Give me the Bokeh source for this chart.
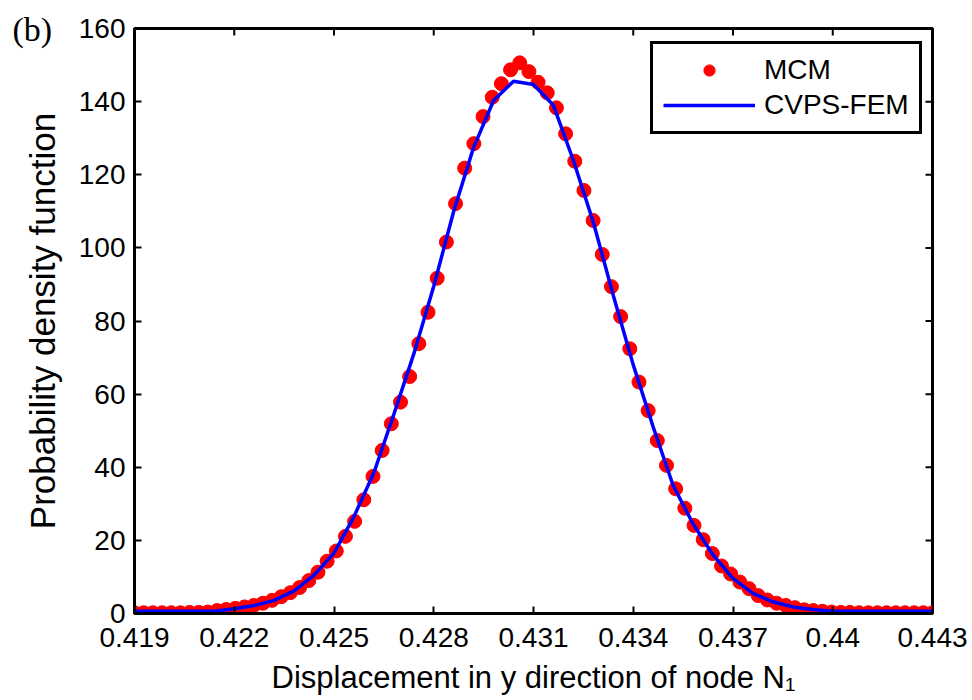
from bokeh.plotting import figure
from bokeh.models import (Range1d, FixedTicker, Legend, LegendItem, Label)
from bokeh.embed import file_html
from bokeh.resources import INLINE
import numpy as np

# ---- data ----
# MCM (Monte Carlo) density estimate: 88 evenly spaced points over 0.419..0.443
mcm_x = np.linspace(0.419, 0.443, 88)
mcm_pdf = [
    0.2, 0.2, 0.2, 0.2, 0.2, 0.2, 0.3, 0.3, 0.4, 0.8,
    1.1, 1.4, 1.8, 2.2, 2.8, 3.6, 4.6, 5.7, 7.1, 9.0,
    11.3, 14.3, 17.1, 21.1, 25.2, 31.1, 37.5, 44.6, 51.9, 57.8,
    64.8, 73.8, 82.4, 91.7, 101.6, 112.1, 121.8, 128.5, 135.9, 141.2,
    144.9, 148.7, 150.6, 148.2, 145.3, 142.4, 138.3, 131.2, 123.7, 115.7,
    107.5, 98.2, 89.4, 81.2, 72.4, 63.3, 55.5, 47.3, 40.5, 34.1,
    28.8, 24.1, 20.2, 16.4, 13.0, 10.8, 8.6, 6.8, 4.9, 3.7,
    2.8, 2.2, 1.6, 1.0, 0.8, 0.6, 0.4, 0.3, 0.3, 0.2,
    0.2, 0.2, 0.2, 0.2, 0.2, 0.2, 0.2, 0.2,
]
# CVPS-FEM density: 41 evenly spaced points over 0.419..0.443
fem_x = np.linspace(0.419, 0.443, 41)
fem_pdf = [
    0.6, 0.6, 0.6, 0.6, 0.6, 1.3, 2.2, 3.6, 6.2, 10.5,
    16.5, 26.5, 38.5, 54.5, 71.0, 89.5, 110.0, 127.5, 140.3, 145.6,
    144.7, 139.0, 123.9, 107.0, 87.0, 68.0, 51.0, 35.0, 24.5, 16.0,
    9.6, 5.5, 3.2, 1.8, 1.1, 0.6, 0.6, 0.6, 0.6, 0.6, 0.6,
]
x_ticks = [0.419, 0.422, 0.425, 0.428, 0.431, 0.434, 0.437, 0.440, 0.443]
x_tick_labels = ["0.419", "0.422", "0.425", "0.428", "0.431", "0.434", "0.437", "0.44", "0.443"]
y_ticks = [0, 20, 40, 60, 80, 100, 120, 140, 160]
x_lo, x_hi = 0.419, 0.443
y_lo, y_hi = 0, 160

FONT = "Liberation Sans"

p = figure(width=972, height=700, output_backend="svg", toolbar_location=None,
           x_range=Range1d(x_lo, x_hi), y_range=Range1d(y_lo, y_hi),
           min_border_left=134, min_border_right=39, min_border_top=28, min_border_bottom=87)
p.background_fill_color = "white"
p.border_fill_color = "white"
p.outline_line_color = "black"
p.outline_line_width = 3
p.xgrid.visible = False
p.ygrid.visible = False

dots = p.scatter(mcm_x, mcm_pdf, size=14, color="#ff0000", line_color="#ff0000")
line = p.line(fem_x, fem_pdf, color="#0000ff", line_width=3.5)

# inward tick marks on the right and top edges (mirrors of the axis ticks)
p.ray(x=[x_hi] * len(y_ticks), y=y_ticks, length=7, length_units="screen",
      angle=np.pi, line_color="black", line_width=2)
p.ray(x=x_ticks, y=[y_hi] * len(x_ticks), length=7, length_units="screen",
      angle=-np.pi / 2, line_color="black", line_width=2)

def style_axis(ax, ticks):
    ax.ticker = FixedTicker(ticks=ticks)
    ax.axis_line_color = "black"
    ax.axis_line_width = 3
    ax.major_tick_in = 7
    ax.major_tick_out = 0
    ax.major_tick_line_width = 2
    ax.major_tick_line_color = "black"
    ax.minor_tick_line_color = None
    ax.major_label_text_font = FONT
    ax.major_label_text_font_size = "28px"
    ax.major_label_text_color = "black"
    ax.axis_label_text_font = FONT
    ax.axis_label_text_font_style = "normal"
    ax.axis_label_text_color = "black"

xa = p.xaxis[0]
style_axis(xa, x_ticks)
xa.major_label_overrides = {t: s for t, s in zip(x_ticks, x_tick_labels)}
xa.major_label_standoff = 14
xa.axis_label = "Displacement in y direction of node N\u2081"
xa.axis_label_text_font_size = "31px"
xa.axis_label_standoff = 10

ya = p.yaxis[0]
style_axis(ya, y_ticks)
ya.major_label_standoff = 9
ya.axis_label = "Probability density function"
ya.axis_label_text_font_size = "35px"
ya.axis_label_standoff = 14

legend = Legend(items=[LegendItem(label="MCM", renderers=[dots]),
                       LegendItem(label="CVPS-FEM", renderers=[line])],
                location=(516, 479))
legend.border_line_color = "black"
legend.border_line_alpha = 1
legend.border_line_width = 3
legend.background_fill_color = "white"
legend.background_fill_alpha = 1
legend.label_text_font = FONT
legend.label_text_font_size = "28px"
legend.label_text_color = "black"
legend.glyph_width = 92
legend.glyph_height = 28
legend.label_height = 28
legend.label_standoff = 9
legend.padding = 10
legend.spacing = 3
legend.margin = 0
p.add_layout(legend)

# panel tag "(b)" drawn at the top-left corner of the canvas
# (kept in a side panel so that it is not clipped to the axes area)
tag = Label(x=12, y=10, x_units="canvas", y_units="canvas", text="(b)",
            text_baseline="top", text_align="left",
            text_font="Liberation Serif", text_font_size="34px", text_color="black")
p.add_layout(tag, "right")

open("out.html", "w").write(file_html(p, INLINE))
